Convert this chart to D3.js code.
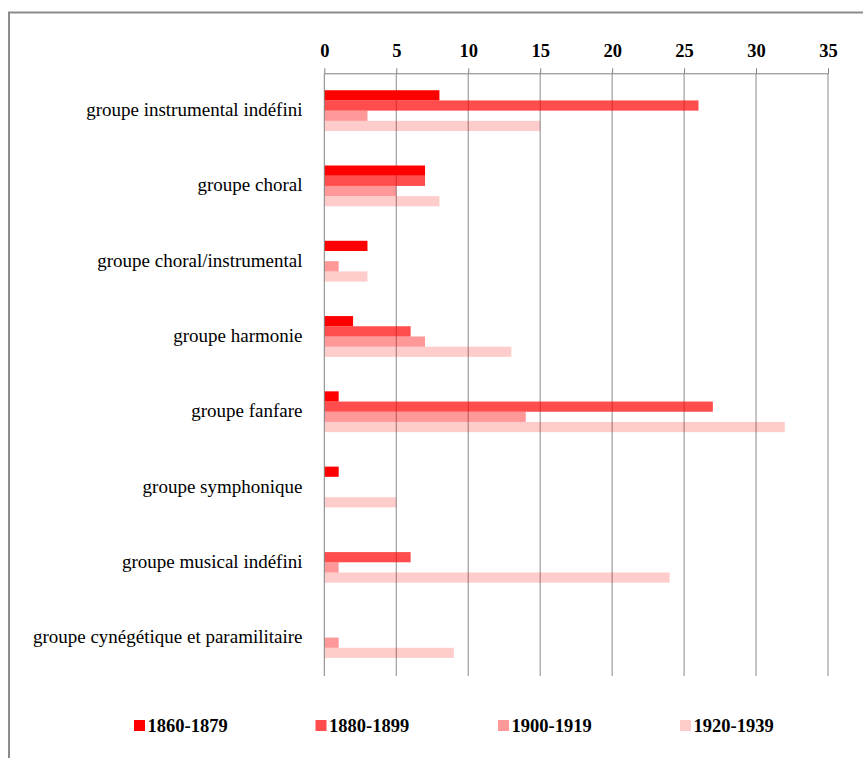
<!DOCTYPE html>
<html>
<head>
<meta charset="utf-8">
<script src="https://cdn.jsdelivr.net/npm/d3@7"></script>
<style>
  html, body { margin: 0; padding: 0; background: #fff; }
  svg { display: block; }
  text { font-family: "Liberation Serif", "Times New Roman", serif; fill: #000; }
</style>
</head>
<body>
<script>
// Categories (top to bottom) and the four periods
const categories = [
  "groupe instrumental indéfini",
  "groupe choral",
  "groupe choral/instrumental",
  "groupe harmonie",
  "groupe fanfare",
  "groupe symphonique",
  "groupe musical indéfini",
  "groupe cynégétique et paramilitaire"
];
const periods = ["1860-1879", "1880-1899", "1900-1919", "1920-1939"];

// Counts per category for each period
const v1860 = [8, 7, 3, 2, 1, 1, 0, 0];
const v1880 = [26, 7, 0, 6, 27, 0, 6, 0];
const v1900 = [3, 5, 1, 7, 14, 0, 1, 1];
const v1920 = [15, 8, 3, 13, 32, 5, 24, 9];

const xTicks = [0, 5, 10, 15, 20, 25, 30, 35];

const seriesValues = [v1860, v1880, v1900, v1920];
const seriesOpacity = [1, 0.7, 0.4, 0.2];

const W = 863, H = 758;
const svg = d3.select("body").append("svg").attr("width", W).attr("height", H);

// Outer frame (extends beyond the right and bottom edges)
svg.append("rect")
  .attr("x", 9).attr("y", 12.5)
  .attr("width", 900).attr("height", 800)
  .attr("fill", "none").attr("stroke", "#8c8c8c").attr("stroke-width", 2);

const plotTop = 73.3, plotBottom = 676;
const x = d3.scaleLinear().domain([0, 35]).range([324.3, 828]);
const y0 = d3.scaleBand().domain(categories).range([73, 675.2]).padding(0);
const groupH = 40.8;
const y1 = d3.scaleBand().domain(periods).range([0, groupH]).padding(0);

// Vertical gridlines
svg.append("g").selectAll("line")
  .data(xTicks.slice(1))
  .join("line")
  .attr("x1", d => x(d)).attr("x2", d => x(d))
  .attr("y1", plotTop).attr("y2", plotBottom)
  .attr("stroke", "#8a8a8a").attr("stroke-width", 1);

// Bars
const rows = [];
categories.forEach((c, i) => {
  periods.forEach((p, j) => rows.push({ cat: c, period: p, s: j, value: seriesValues[j][i] }));
});
svg.append("g").selectAll("rect")
  .data(rows.filter(d => d.value > 0))
  .join("rect")
  .attr("x", x(0))
  .attr("y", d => y0(d.cat) + (y0.bandwidth() - groupH) / 2 + y1(d.period))
  .attr("width", d => x(d.value) - x(0))
  .attr("height", y1.bandwidth())
  .attr("fill", "#ff0000")
  .attr("fill-opacity", d => seriesOpacity[d.s]);

// Top axis with ticks and bold labels
const xAxis = d3.axisTop(x).tickValues(xTicks).tickSizeInner(5).tickSizeOuter(0).tickPadding(11);
const gx = svg.append("g").attr("transform", `translate(0,${plotTop})`).call(xAxis);
gx.select(".domain").attr("stroke", "#808080");
gx.selectAll(".tick line").attr("stroke", "#808080");
gx.selectAll(".tick text")
  .attr("font-family", "Liberation Serif, Times New Roman, serif")
  .attr("font-size", 18.5).attr("font-weight", "bold").attr("fill", "#000");

// Vertical category axis line at zero
svg.append("line")
  .attr("x1", x(0)).attr("x2", x(0))
  .attr("y1", plotTop).attr("y2", plotBottom)
  .attr("stroke", "#808080").attr("stroke-width", 1);

// Category labels
svg.append("g").selectAll("text")
  .data(categories)
  .join("text")
  .attr("x", 302.5)
  .attr("y", d => y0(d) + y0.bandwidth() / 2 + 5.5)
  .attr("text-anchor", "end")
  .attr("font-size", 19)
  .text(d => d);

// Legend
const legendX = [134, 315.5, 498, 680];
const lg = svg.append("g").selectAll("g")
  .data(periods)
  .join("g")
  .attr("transform", (d, i) => `translate(${legendX[i]},720)`);
lg.append("rect")
  .attr("width", 11).attr("height", 11)
  .attr("fill", "#ff0000")
  .attr("fill-opacity", (d, i) => seriesOpacity[i]);
lg.append("text")
  .attr("x", 13.5).attr("y", 11.7)
  .attr("font-size", 18.5).attr("font-weight", "bold")
  .text(d => d);
</script>
</body>
</html>
